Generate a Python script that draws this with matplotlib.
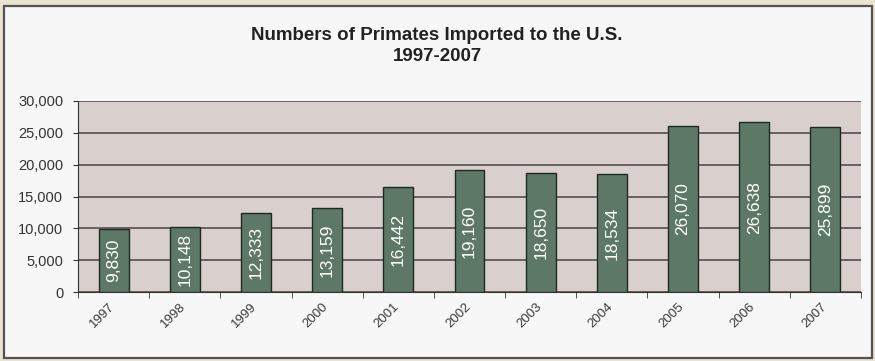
import matplotlib
matplotlib.use("Agg")
import matplotlib.pyplot as plt
from matplotlib.patches import Rectangle
from matplotlib.ticker import FuncFormatter, MultipleLocator
from matplotlib.transforms import ScaledTranslation
import numpy as np

plt.rcParams['font.family'] = ['Liberation Sans', 'DejaVu Sans']

years = ['1997', '1998', '1999', '2000', '2001', '2002', '2003', '2004', '2005', '2006', '2007']
imports = [9830, 10148, 12333, 13159, 16442, 19160, 18650, 18534, 26070, 26638, 25899]
title = "Numbers of Primates Imported to the U.S.\n1997-2007"

W, H = 875, 361
fig = plt.figure(figsize=(W / 100, H / 100), dpi=100)
fig.patch.set_facecolor('#e9e4cc')

# white chart panel
fig.add_artist(Rectangle((4 / W, 1 - 358 / H), (872 - 4) / W, (358 - 6) / H,
                         transform=fig.transFigure, facecolor='#f7f7f7',
                         edgecolor='#55505a', linewidth=1.6, zorder=0))

left, right, top, bottom = 78, 861, 101, 292
ax = fig.add_axes([left / W, 1 - bottom / H, (right - left) / W, (bottom - top) / H])
ax.set_facecolor('#d9cfcc')

x = np.arange(len(years))
ax.bar(x, imports, width=0.42, color='#5d7866', edgecolor='#1e2a22', linewidth=1.0, zorder=3)
for xi, v in zip(x, imports):
    ax.text(xi, v / 2, f"{v:,}", rotation=90, ha='center', va='center',
            color='white', fontsize=12.5, zorder=4)

ax.set_xlim(-0.5, len(years) - 0.5)
ax.set_ylim(0, 30000)
ax.yaxis.set_major_locator(MultipleLocator(5000))
ax.yaxis.set_major_formatter(FuncFormatter(lambda v, p: f"{int(v):,}"))
ax.grid(axis='y', color='#4a4048', linewidth=1.1, zorder=1)
ax.set_axisbelow(True)

ax.set_xticks(x)
ax.set_xticklabels(years, rotation=45, ha='right', rotation_mode='anchor', fontsize=9.5, color='#3a3a3a')
ax.tick_params(axis='x', length=0, pad=6)
shift = ScaledTranslation(-5 / 100, 0, fig.dpi_scale_trans)
for lbl in ax.get_xticklabels():
    lbl.set_transform(lbl.get_transform() + shift)
ax.set_xticks(np.arange(-0.5, len(years)), minor=True)
ax.tick_params(axis='x', which='minor', length=4, direction='out', color='#333333')
ax.tick_params(axis='y', labelsize=10.5, color='#333333', labelcolor='#333333', length=3.6, pad=7)

for s in ['top', 'right']:
    ax.spines[s].set_visible(False)
ax.spines['left'].set_color('#333333')
ax.spines['bottom'].set_color('#333333')

fig.text(437 / W, 1 - 46 / H, title, ha='center', va='center', fontsize=13.5,
         fontweight='bold', color='#222222', linespacing=1.3)

fig.savefig('out.png', dpi=100, facecolor=fig.get_facecolor())
